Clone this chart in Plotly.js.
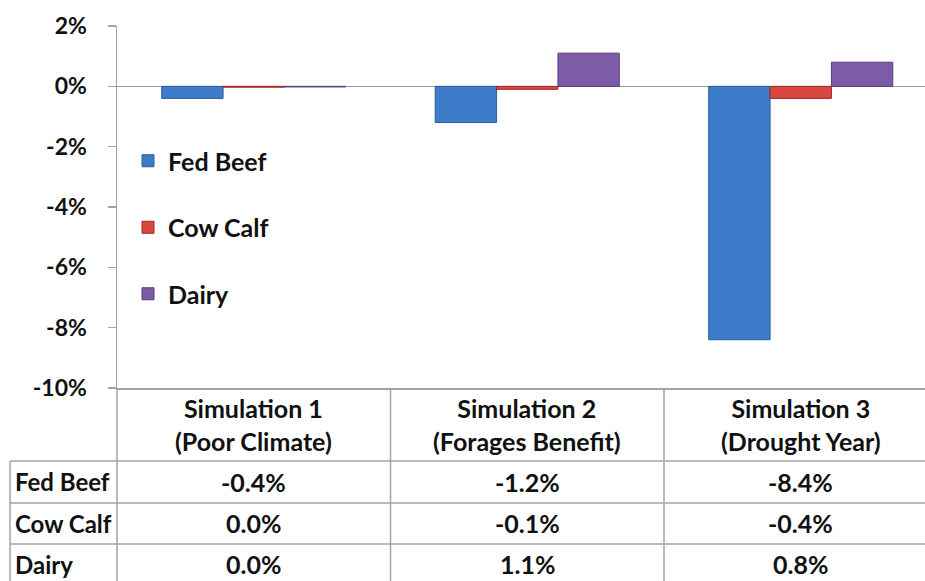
<!DOCTYPE html>
<html>
<head>
<meta charset="utf-8">
<script src="https://cdn.plot.ly/plotly-3.0.1.min.js"></script>
<style>
  html, body { margin: 0; padding: 0; background: #ffffff; }
  #chart { width: 925px; height: 581px; }
</style>
</head>
<body>
<div id="chart"></div>
<script>
// ---- data ----
const categories = ["Simulation 1<br>(Poor Climate)", "Simulation 2<br>(Forages Benefit)", "Simulation 3<br>(Drought Year)"];
const seriesNames = ["Fed Beef", "Cow Calf", "Dairy"];
const fedBeef = [-0.4, -1.2, -8.4];
const cowCalf = [-0.03, -0.1, -0.4];
const dairy = [-0.02, 1.1, 0.8];
const yTickVals = [2, 0, -2, -4, -6, -8, -10];
const yTickText = ["2%", "0%", "-2%", "-4%", "-6%", "-8%", "-10%"];

// ---- layout geometry (pixels) ----
const W = 925, H = 581;
const mL = 117, mR = 0, mT = 26, mB = 193;
const plotW = W - mL - mR, plotH = H - mT - mB;
const catPx = 273.5;
const xr = [-0.5, -0.5 + plotW / catPx];
const FONT = "Lato, 'Open Sans', sans-serif";
const fillColors = ["#3d7cc9", "#d9473f", "#7d5ba6"];
const lineColors = ["#2a5c9a", "#9a2c28", "#573d80"];
const gridColor = "#a3a3a3";

const px2py = py => (H - mB - py) / plotH;     // pixel y -> paper y
const px2px = px => (px - mL) / plotW;          // pixel x -> paper x
const d2px = d => (d - xr[0]) / (xr[1] - xr[0]); // data x -> paper x

const values = [fedBeef, cowCalf, dairy];
const xIdx = categories.map((c, i) => i);

const traces = values.map((v, k) => ({
  type: "bar",
  name: seriesNames[k],
  x: xIdx,
  y: v,
  legendgroup: "g" + k,
  marker: { color: fillColors[k], line: { color: lineColors[k], width: 1 } },
  hoverinfo: "skip"
}));

const fmt = v => (Math.round(v * 10) / 10).toFixed(1) + "%";

const annotations = [];
// header row
categories.forEach((c, i) => {
  annotations.push({
    text: "<b>" + c + "</b>", xref: "x", yref: "paper", x: i, y: px2py(425),
    showarrow: false, xanchor: "center", yanchor: "middle",
    font: { family: FONT, size: 25, color: "#111" }
  });
});
const rowCentersPx = [482, 523, 564];
values.forEach((v, k) => {
  annotations.push({
    text: "<b>" + seriesNames[k] + "</b>", xref: "paper", yref: "paper",
    x: px2px(13), y: px2py(rowCentersPx[k]), showarrow: false,
    xanchor: "left", yanchor: "middle",
    font: { family: FONT, size: 24, color: "#111" }
  });
  v.forEach((val, i) => {
    annotations.push({
      text: "<b>" + fmt(val) + "</b>", xref: "x", yref: "paper", x: i, y: px2py(rowCentersPx[k]),
      showarrow: false, xanchor: "center", yanchor: "middle",
      font: { family: FONT, size: 25, color: "#111" }
    });
  });
});

// table grid lines
const shapes = [];
const hLine = (py, x0px) => shapes.push({
  type: "line", xref: "paper", yref: "paper", x0: px2px(x0px), x1: 1.05,
  y0: px2py(py), y1: px2py(py), line: { color: gridColor, width: 1.5 }
});
[461, 503, 544].forEach(py => hLine(py, 10));
const vLine = (xp, y0px) => shapes.push({
  type: "line", xref: "paper", yref: "paper", x0: xp, x1: xp,
  y0: px2py(y0px), y1: px2py(H + 5), line: { color: gridColor, width: 1.5 }
});
vLine(px2px(10), 461);
vLine(0, 388);
[0.5, 1.5].forEach(b => vLine(d2px(b), 388));

const layout = {
  width: W, height: H,
  margin: { l: mL, r: mR, t: mT, b: mB, pad: 0 },
  paper_bgcolor: "#ffffff", plot_bgcolor: "#ffffff",
  barmode: "group", bargap: 0.327, bargroupgap: 0,
  showlegend: true,
  legend: {
    x: px2px(128), y: px2py(138), xanchor: "left", yanchor: "top",
    font: { family: FONT, size: 25, color: "#111", weight: "bold" },
    traceorder: "grouped", tracegroupgap: 31, bgcolor: "rgba(0,0,0,0)",
    itemclick: false
  },
  xaxis: {
    range: xr, showticklabels: false, showgrid: false, zeroline: false,
    showline: true, linecolor: gridColor, linewidth: 1.5, ticks: "", fixedrange: true
  },
  yaxis: {
    range: [-10, 2], tickvals: yTickVals, ticktext: yTickText,
    showgrid: false, zeroline: true, zerolinecolor: "#9a9a9a", zerolinewidth: 1.5,
    showline: true, linecolor: gridColor, linewidth: 1.5,
    ticks: "outside", ticklen: 8, tickcolor: gridColor, tickwidth: 1.5,
    ticklabelstandoff: 16,
    tickfont: { family: FONT, size: 23, color: "#111", weight: "bold" },
    fixedrange: true
  },
  annotations: annotations,
  shapes: shapes
};

Plotly.newPlot("chart", traces, layout, { displayModeBar: false, staticPlot: true });
</script>
</body>
</html>
